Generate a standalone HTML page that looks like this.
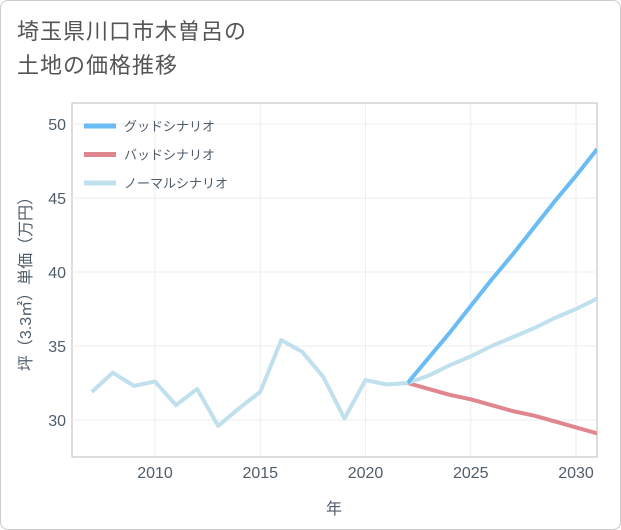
<!DOCTYPE html>
<html><head><meta charset="utf-8"><style>
body{margin:0;background:#fff;font-family:"Liberation Sans","Noto Sans CJK JP",sans-serif;}
#wrap{position:relative;width:619px;height:528px;border:1px solid #ccc;border-radius:8px;overflow:hidden;}
#title{position:absolute;left:16px;top:14px;font-size:22px;line-height:34px;color:#555;letter-spacing:1px;}
</style></head><body>
<div id="wrap">
<div id="title">埼玉県川口市木曽呂の<br>土地の価格推移</div>
<svg id="chart" width="621" height="530" style="position:absolute;left:-1px;top:-1px"></svg>
</div>
<script>
const years=[2007,2008,2009,2010,2011,2012,2013,2014,2015,2016,2017,2018,2019,2020,2021,2022];
const history=[31.9,33.2,32.3,32.6,31.0,32.1,29.6,30.8,31.9,35.4,34.6,32.9,30.1,32.7,32.4,32.5];
const futureYears=[2022,2023,2024,2025,2026,2027,2028,2029,2030,2031];
const goodValues=[32.5,34.2,35.9,37.7,39.5,41.2,43.0,44.8,46.5,48.3];
const badValues=[32.5,32.1,31.7,31.4,31.0,30.6,30.3,29.9,29.5,29.1];
const normalValues=[32.5,33.0,33.7,34.3,35.0,35.6,36.2,36.9,37.5,38.2];
const xTicks=[2010,2015,2020,2025,2030];
const yTicks=[30,35,40,45,50];
const legendLabels=["グッドシナリオ","バッドシナリオ","ノーマルシナリオ"];
const svg=document.getElementById('chart');
const NS='http://www.w3.org/2000/svg';
const L=72,R=597,T=103,B=457;
const tc='#4f5d6b';
const x=y=>155+(y-2010)*21.05;
const yv=v=>420-(v-30)*14.8;
function mk(tag,attrs,parent){const e=document.createElementNS(NS,tag);for(const k in attrs)e.setAttribute(k,attrs[k]);(parent||svg).appendChild(e);return e;}
const bg=mk('rect',{x:L,y:T,width:R-L,height:B-T,fill:'#fff',stroke:'#bbb'});


xTicks.forEach(t=>{
 const g=mk('line',{x1:x(t),x2:x(t),y1:T,y2:B,stroke:'#eee'});
 
 
 const tx=mk('text',{x:x(t),y:478,'text-anchor':'middle','font-size':16,fill:tc});tx.textContent=t;
 
 
});
yTicks.forEach(t=>{
 const g=mk('line',{x1:L,x2:R,y1:yv(t),y2:yv(t),stroke:'#eee'});
 
 
 const tx=mk('text',{x:66,y:yv(t)+6,'text-anchor':'end','font-size':16,fill:tc});tx.textContent=t;
 
 
});
const xt=mk('text',{x:334,y:514,'text-anchor':'middle','font-size':16,fill:tc});xt.textContent='年';


const yt=mk('text',{x:0,y:0,'text-anchor':'middle','font-size':16,fill:tc,transform:'translate(31,280) rotate(-90)'});yt.textContent='坪（3.3㎡）単価（万円）';


const clip=mk('clipPath',{id:'c'});mk('rect',{x:L,y:T,width:R-L,height:B-T},clip);
function line(xs,vs,color,name){
 const p=mk('polyline',{points:xs.map((t,i)=>x(t)+','+yv(vs[i])).join(' '),fill:'none',stroke:color,'stroke-width':4,'stroke-linejoin':'round','clip-path':'url(#c)'});
 
 
}
line(futureYears,badValues,'#e0868e','bad-scenario-line');
line(futureYears,normalValues,'#bfe0ec','normal-scenario-line');
line(futureYears,goodValues,'#6bbcf5','good-scenario-line');
line(years,history,'#bfe0ec','history-line');
const colors=['#6bbcf5','#e0868e','#bfe0ec'];
legendLabels.forEach((lab,i)=>{
 const yy=126+i*28.5;
 const l=mk('line',{x1:84,x2:116,y1:yy,y2:yy,stroke:colors[i],'stroke-width':5});
 
 
 const t=mk('text',{x:124,y:yy+5,'font-size':13,fill:tc});t.textContent=lab;
 
 
});
</script>
</body></html>
